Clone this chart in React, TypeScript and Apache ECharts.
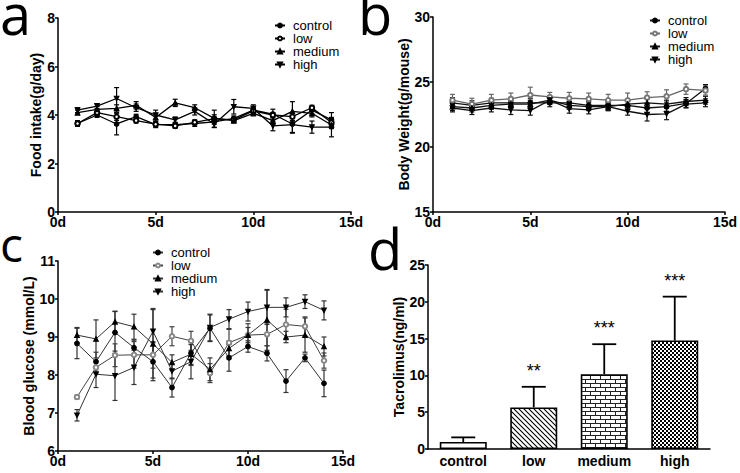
import React, { useEffect, useRef } from 'react';
import * as echarts from 'echarts';

const days = [1, 2, 3, 4, 5, 6, 7, 8, 9, 10, 11, 12, 13, 14];
const groupNames = ['control', 'low', 'medium', 'high'];
const dayTicks = [0, 5, 10, 15];

// Panel a: food intake (g/day)
const foodControl = [3.65, 4.0, 3.63, 3.93, 3.6, 3.6, 3.65, 3.72, 3.86, 4.2, 4.04, 3.63, 4.2, 3.8];
const foodLow = [3.65, 4.1, 3.93, 3.77, 3.62, 3.55, 3.7, 3.85, 3.8, 4.17, 4.0, 3.93, 4.3, 3.69];
const foodMedium = [4.1, 4.23, 4.27, 4.4, 3.9, 4.5, 4.3, 3.86, 3.77, 4.07, 3.77, 4.15, 4.07, 3.59];
const foodHigh = [4.2, 4.37, 4.68, 4.3, 4.0, 3.8, 4.15, 3.63, 4.34, 4.27, 3.55, 3.6, 3.5, 3.5];
const foodControlErr = [0.12, 0.1, 0.45, 0.1, 0.12, 0.1, 0.12, 0.1, 0.1, 0.12, 0.2, 0.35, 0.15, 0.3];
const foodLowErr = [0.1, 0.1, 0.15, 0.1, 0.1, 0.1, 0.1, 0.35, 0.1, 0.1, 0.1, 0.15, 0.1, 0.15];
const foodMediumErr = [0.1, 0.12, 0.15, 0.15, 0.15, 0.15, 0.12, 0.15, 0.1, 0.1, 0.15, 0.4, 0.15, 0.15];
const foodHighErr = [0.1, 0.1, 0.45, 0.15, 0.2, 0.12, 0.15, 0.15, 0.3, 0.15, 0.2, 0.35, 0.25, 0.4];

// Panel b: body weight (g/mouse)
const bwControl = [23.4, 23.2, 23.4, 23.4, 23.4, 23.4, 23.4, 23.2, 23.2, 23.2, 23.0, 23.1, 23.35, 24.5];
const bwLow = [23.6, 23.3, 23.6, 23.7, 24.0, 23.85, 23.75, 23.7, 23.6, 23.6, 23.8, 23.9, 24.45, 24.35];
const bwMedium = [23.1, 23.0, 23.2, 23.3, 23.3, 23.6, 23.2, 23.1, 23.1, 23.3, 23.4, 23.3, 23.5, 23.6];
const bwHigh = [23.0, 22.8, 23.0, 22.85, 22.8, 23.6, 22.95, 22.85, 23.1, 22.75, 22.5, 22.55, 23.3, 23.4];
const bwControlErr = [0.4, 0.35, 0.35, 0.35, 0.35, 0.3, 0.35, 0.3, 0.3, 0.3, 0.35, 0.35, 0.3, 0.3];
const bwLowErr = [0.45, 0.45, 0.45, 0.45, 0.6, 0.35, 0.45, 0.45, 0.45, 0.55, 0.45, 0.5, 0.4, 0.35];
const bwMediumErr = [0.3, 0.3, 0.3, 0.3, 0.3, 0.3, 0.3, 0.3, 0.3, 0.3, 0.3, 0.3, 0.3, 0.3];
const bwHighErr = [0.3, 0.3, 0.3, 0.35, 0.35, 0.3, 0.35, 0.3, 0.3, 0.3, 0.5, 0.45, 0.3, 0.3];

// Panel c: blood glucose (mmol/L)
const bgControl = [8.83, 8.35, 9.12, 8.72, 8.35, 7.67, 8.58, 9.23, 8.45, 8.75, 8.57, 7.84, 8.45, 7.78];
const bgLow = [7.42, 8.2, 8.52, 8.53, 8.53, 9.02, 8.9, 8.05, 8.85, 9.05, 9.07, 9.33, 9.28, 8.38];
const bgMedium = [9.05, 8.95, 9.4, 9.27, 8.82, 8.33, 8.55, 8.15, 8.7, 9.05, 9.45, 9.0, 9.05, 8.75];
const bgHigh = [6.94, 8.02, 7.98, 8.2, 9.15, 8.1, 8.35, 9.25, 9.47, 9.67, 9.78, 9.78, 9.93, 9.7];
const bgControlErr = [0.4, 0.25, 0.55, 0.2, 0.5, 0.25, 0.3, 0.35, 0.35, 0.15, 0.2, 0.3, 0.1, 0.35];
const bgLowErr = [0.05, 0.15, 0.3, 0.35, 0.35, 0.25, 0.25, 0.25, 0.35, 0.3, 0.3, 0.4, 0.25, 0.2];
const bgMediumErr = [0.2, 0.5, 0.28, 0.33, 0.9, 0.2, 0.3, 0.3, 0.2, 0.2, 0.8, 0.15, 0.45, 0.25];
const bgHighErr = [0.15, 0.35, 0.65, 0.45, 0.6, 0.2, 0.45, 0.35, 0.25, 0.25, 0.45, 0.25, 0.18, 0.25];

// Panel d: tacrolimus (ng/ml)
const tacMean = [0.95, 5.65, 10.17, 14.74];
const tacSD = [0.63, 2.8, 4.07, 5.96];
const tacStars = ['', '**', '***', '***'];

const FONT = 'Liberation Sans, Arial, sans-serif';

function makeCanvas(w: number, h: number, draw: (ctx: CanvasRenderingContext2D) => void) {
  const c = document.createElement('canvas');
  c.width = w;
  c.height = h;
  const ctx = c.getContext('2d')!;
  ctx.fillStyle = '#fff';
  ctx.fillRect(0, 0, w, h);
  draw(ctx);
  return c;
}

export default function App() {
  const ref = useRef<HTMLDivElement>(null);

  useEffect(() => {
    const chart = echarts.init(ref.current!, null, { renderer: 'svg' });

    const hatch = makeCanvas(5, 5, (ctx) => {
      ctx.strokeStyle = '#000';
      ctx.lineWidth = 1.1;
      ctx.beginPath();
      ctx.moveTo(-1, -1); ctx.lineTo(6, 6);
      ctx.moveTo(-1, 4); ctx.lineTo(2, 7);
      ctx.moveTo(4, -1); ctx.lineTo(7, 2);
      ctx.stroke();
    });
    const brick = makeCanvas(10, 8, (ctx) => {
      ctx.fillStyle = '#222';
      ctx.fillRect(0, 3, 10, 1);
      ctx.fillRect(0, 7, 10, 1);
      ctx.fillRect(0, 0, 1, 3);
      ctx.fillRect(5, 4, 1, 3);
    });
    const checker = makeCanvas(4, 4, (ctx) => {
      ctx.fillStyle = '#000';
      ctx.fillRect(0, 0, 2, 2);
      ctx.fillRect(2, 2, 2, 2);
    });
    const pat = (c: HTMLCanvasElement) => ({ image: c, repeat: 'repeat', imageWidth: c.width, imageHeight: c.height });
    const fills: any[] = ['#fff', pat(hatch), pat(brick), pat(checker)];

    const axisLine = { lineStyle: { color: '#000', width: 1.5 } };
    const axisLabel = (margin: number) => ({ color: '#000', fontWeight: 'bold', fontSize: 14, fontFamily: FONT, margin });
    const nameStyle = { color: '#000', fontWeight: 'bold', fontSize: 14, fontFamily: FONT };

    const dayAxis = (gridIndex: number, margin: number) => ({
      type: 'value', gridIndex, min: dayTicks[0], max: dayTicks[dayTicks.length - 1], interval: 5,
      axisLine, axisTick: { length: 3, lineStyle: { color: '#000', width: 1.5 } },
      axisLabel: { ...axisLabel(margin), formatter: (v: number) => v + 'd' },
      splitLine: { show: false },
    });
    const valAxis = (gridIndex: number, min: number, max: number, interval: number, name: string, nameGap: number) => ({
      type: 'value', gridIndex, min, max, interval, name, nameLocation: 'middle', nameGap, nameTextStyle: nameStyle,
      axisLine: { show: true, ...axisLine }, axisTick: { show: true, length: 3, lineStyle: { color: '#000', width: 1.5 } },
      axisLabel: axisLabel(3), splitLine: { show: false },
    });

    const series: any[] = [];
    const symbols = ['circle', 'emptyCircle', 'triangle', 'triangle'];
    const rotates = [0, 0, 0, 180];

    const addPanel = (
      idx: number, suffix: string, vals: number[][], errs: number[][],
      lineColors: string[], markColors: string[], lineWidth: number
    ) => {
      vals.forEach((v, g) => {
        const ec = lineColors[g];
        series.push({
          type: 'custom', xAxisIndex: idx, yAxisIndex: idx, z: 2,
          itemStyle: { color: ec },
          data: days.map((d, i) => [d, v[i] - errs[g][i], v[i] + errs[g][i]]),
          encode: { x: 0, y: [1, 2] },
          renderItem: (params: any, api: any) => {
            const x = api.value(0);
            const lo = api.coord([x, api.value(1)]);
            const hi = api.coord([x, api.value(2)]);
            const st = { stroke: ec, lineWidth: 1.2 };
            return {
              type: 'group', children: [
                { type: 'line', shape: { x1: lo[0], y1: lo[1], x2: hi[0], y2: hi[1] }, style: st },
                { type: 'line', shape: { x1: lo[0] - 2.5, y1: lo[1], x2: lo[0] + 2.5, y2: lo[1] }, style: st },
                { type: 'line', shape: { x1: hi[0] - 2.5, y1: hi[1], x2: hi[0] + 2.5, y2: hi[1] }, style: st },
              ],
            };
          },
        });
      });
      vals.forEach((v, g) => {
        series.push({
          type: 'line', name: groupNames[g] + suffix, xAxisIndex: idx, yAxisIndex: idx, z: 3,
          data: days.map((d, i) => [d, v[i]]),
          symbol: symbols[g], symbolRotate: rotates[g], symbolSize: 4.5,
          lineStyle: { color: lineColors[g], width: lineWidth },
          itemStyle: { color: markColors[g], borderColor: markColors[g], borderWidth: 1.2 },
        });
      });
    };

    addPanel(0, '', [foodControl, foodLow, foodMedium, foodHigh],
      [foodControlErr, foodLowErr, foodMediumErr, foodHighErr],
      ['#000', '#000', '#000', '#000'], ['#000', '#000', '#000', '#000'], 1.3);
    addPanel(1, ' ', [bwControl, bwLow, bwMedium, bwHigh],
      [bwControlErr, bwLowErr, bwMediumErr, bwHighErr],
      ['#111', '#666', '#111', '#111'], ['#000', '#777', '#000', '#000'], 1.3);
    addPanel(2, '  ', [bgControl, bgLow, bgMedium, bgHigh],
      [bgControlErr, bgLowErr, bgMediumErr, bgHighErr],
      ['#333', '#444', '#333', '#333'], ['#000', '#888', '#000', '#000'], 1.0);

    // Panel d bars
    series.push({
      type: 'bar', xAxisIndex: 3, yAxisIndex: 3, barWidth: 47, z: 2,
      data: tacMean.map((v, i) => ({ value: v, itemStyle: { color: fills[i] } })),
      itemStyle: { borderColor: '#000', borderWidth: 1.6 },
    });
    series.push({
      type: 'custom', xAxisIndex: 3, yAxisIndex: 3, z: 3,
      itemStyle: { color: '#000' },
      data: tacMean.map((v, i) => [i, v, v + tacSD[i]]),
      encode: { x: 0, y: [1, 2] },
      renderItem: (params: any, api: any) => {
        const i = api.value(0);
        const lo = api.coord([i, api.value(1)]);
        const hi = api.coord([i, api.value(2)]);
        const st = { stroke: '#000', lineWidth: 1.8 };
        return {
          type: 'group', children: [
            { type: 'line', shape: { x1: lo[0], y1: lo[1], x2: hi[0], y2: hi[1] }, style: st },
            { type: 'line', shape: { x1: hi[0] - 12, y1: hi[1], x2: hi[0] + 12, y2: hi[1] }, style: st },
            {
              type: 'text', x: hi[0], y: hi[1] - 16,
              style: { text: tacStars[params.dataIndex], fontSize: 18, fontFamily: FONT, fill: '#000', align: 'center', verticalAlign: 'middle' },
            },
          ],
        };
      },
    });

    const legend = (suffix: string, left: number, top: number) => ({
      data: groupNames.map((n) => n + suffix),
      formatter: (n: string) => n.trim(),
      orient: 'vertical', left, top, itemWidth: 10, itemHeight: 5, itemGap: 0,
      textStyle: { fontSize: 13, fontFamily: FONT, color: '#000', lineHeight: 13, padding: [0, 0, 0, 3] },
      selectedMode: false,
    });

    const letter = (t: string, x: number, y: number, size: number) => ({
      type: 'text', x, y,
      style: { text: t, fontSize: size, fontFamily: 'Open Sans', fill: '#000', align: 'left', verticalAlign: 'middle' },
    });

    const option: any = {
      animation: false,
      backgroundColor: '#fff',
      grid: [
        { left: 58, top: 18, width: 293, height: 194 },
        { left: 433, top: 17, width: 295, height: 195 },
        { left: 58, top: 261, width: 285, height: 190 },
        { left: 428, top: 265, width: 282, height: 184 },
      ],
      xAxis: [
        dayAxis(0, 3),
        dayAxis(1, 3),
        dayAxis(2, 3),
        {
          type: 'category', gridIndex: 3, data: groupNames,
          axisLine, axisTick: { show: false },
          axisLabel: { ...axisLabel(5), interval: 0 },
        },
      ],
      yAxis: [
        valAxis(0, 0, 8, 2, 'Food intake(g/day)', 14),
        valAxis(1, 15, 30, 5, 'Body Weight(g/mouse)', 20),
        valAxis(2, 6, 11, 1, 'Blood glucose (mmol/L)', 19),
        valAxis(3, 0, 25, 5, 'Tacrolimus(ng/ml)', 22),
      ],
      legend: [legend('', 269, 14), legend(' ', 644, 9), legend('  ', 147, 241)],
      graphic: [
        letter('a', 0, 13, 56),
        letter('b', 358, 13, 56),
        letter('c', 0, 243, 48),
        letter('d', 368, 248, 56),
      ],
      series,
    };

    chart.setOption(option);
    return () => chart.dispose();
  }, []);

  return <div ref={ref} style={{ position: 'fixed', left: 0, top: 0, width: 740, height: 473, background: '#fff' }} />;
}
